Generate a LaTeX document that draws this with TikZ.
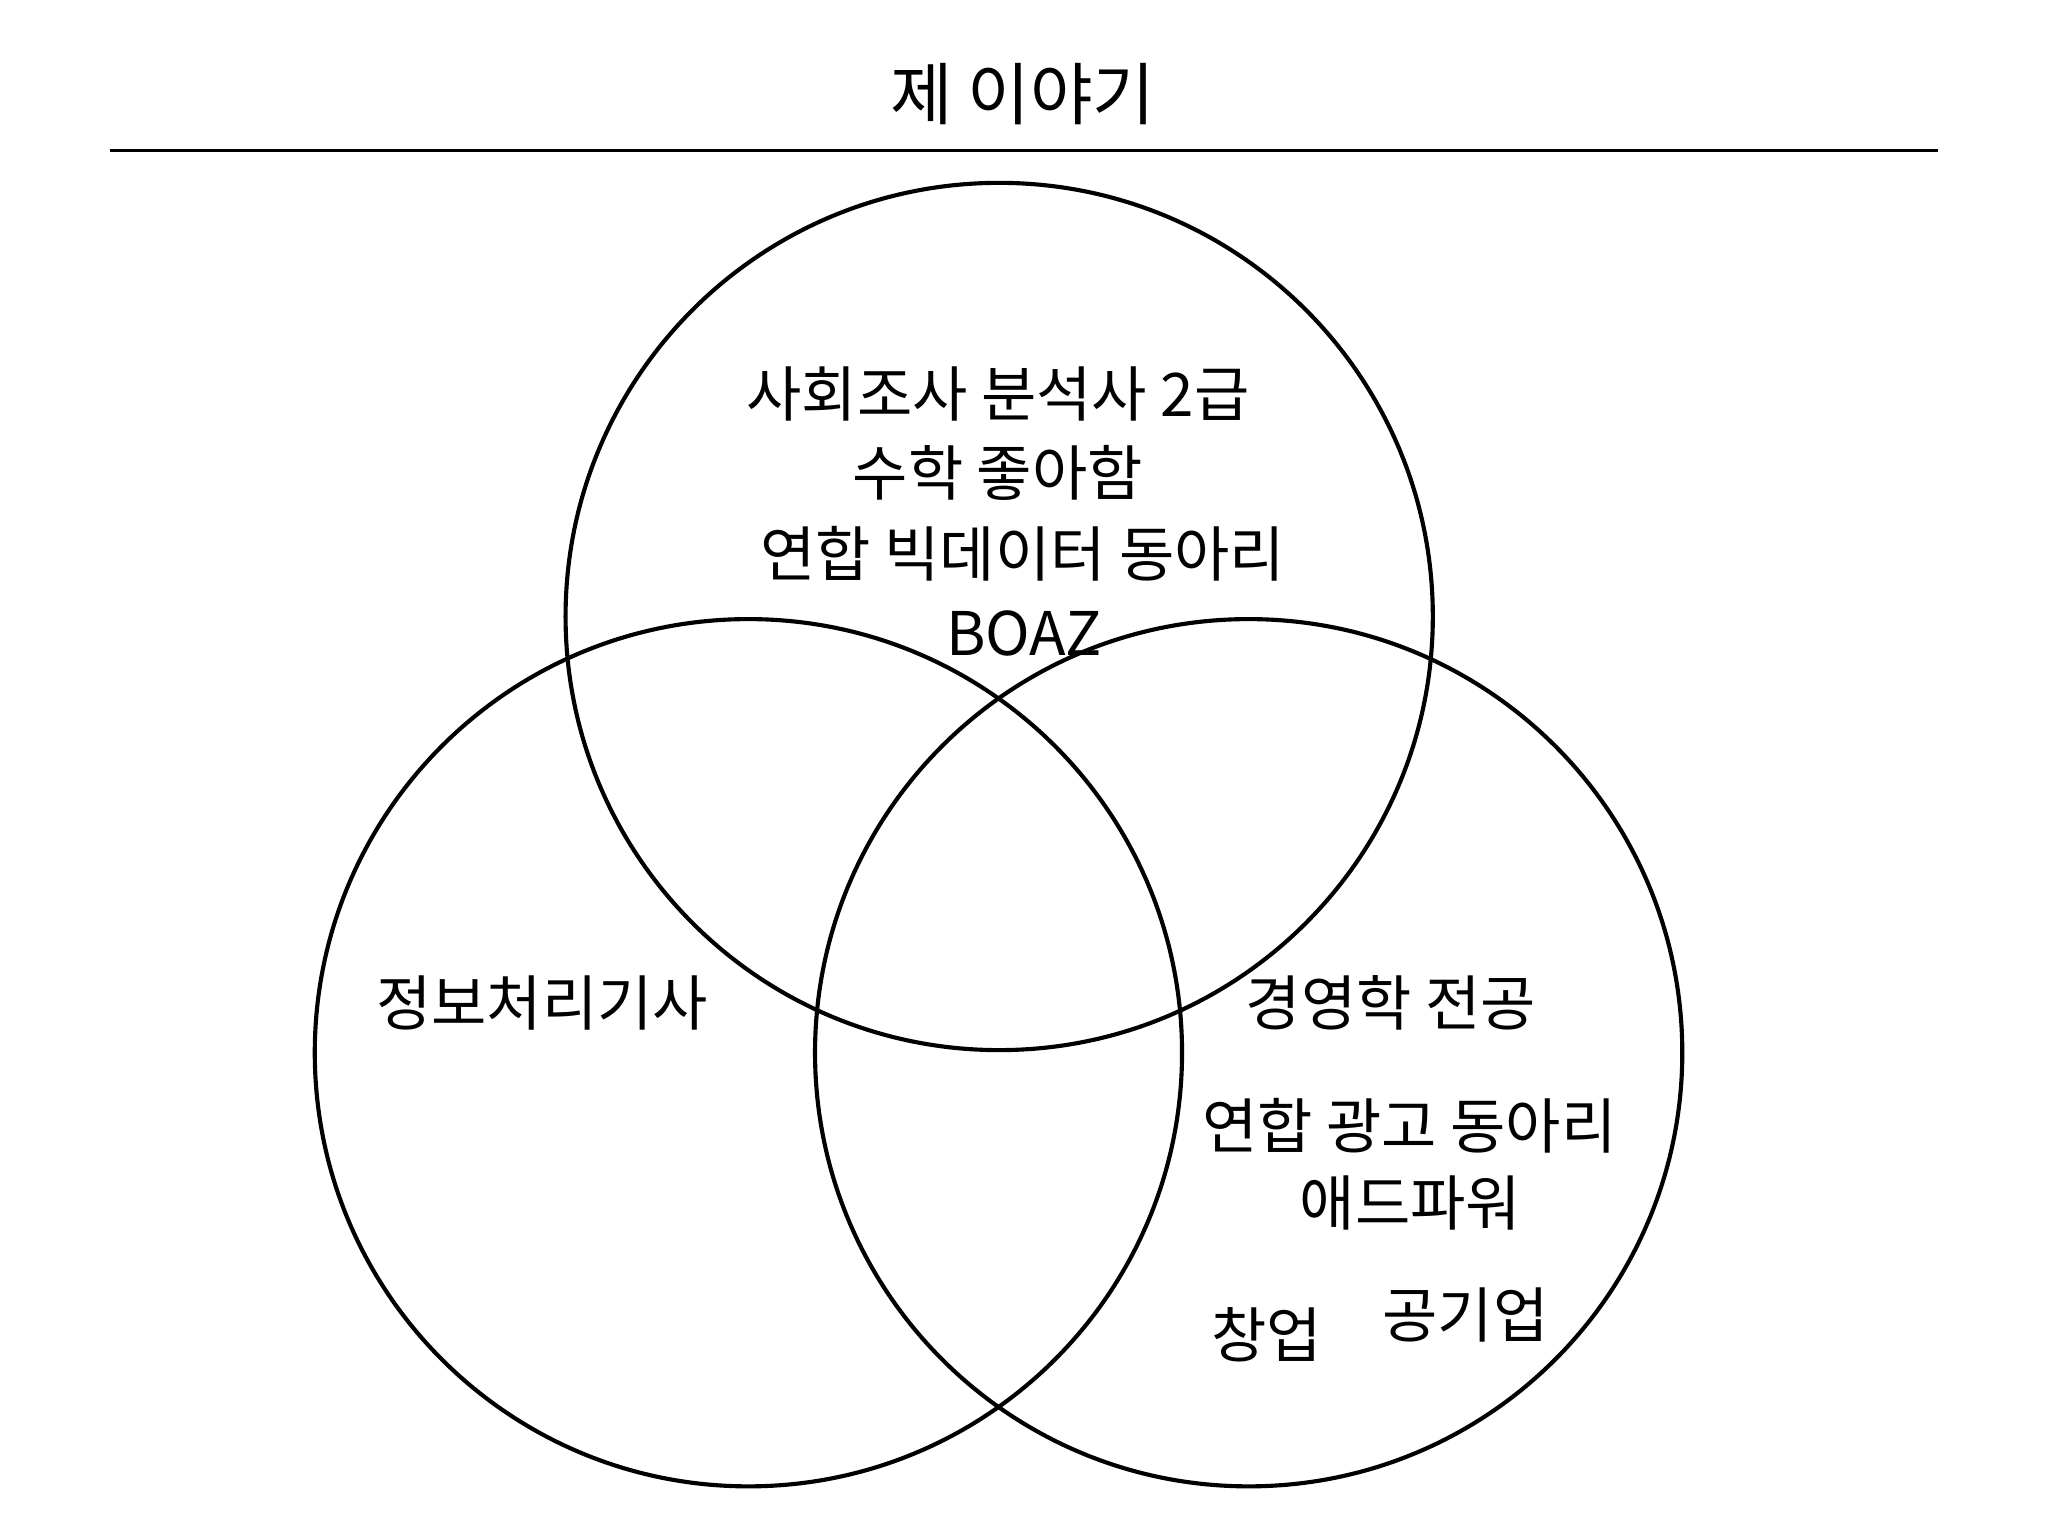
\documentclass[tikz,border=0pt]{standalone}
\usepackage{fontspec}
\setmainfont{Noto Sans CJK KR}
\usepackage{tikz}

\tikzset{
    set/.style={draw, circle, line width=0.9pt, inner sep=0pt, minimum size=6.64cm},
    item/.style={font=\fontsize{13.1}{15}\selectfont, inner sep=0pt},
}

\begin{document}
\begin{tikzpicture}
    \useasboundingbox (0,0) rectangle (15.68,-11.76);

    \node[font=\fontsize{14.8}{17}\selectfont] at (7.83, -0.72) (title) {제 이야기};
    \coordinate (ruleL) at (0.84, -1.15);
    \coordinate (ruleR) at (14.84, -1.15);
    \draw[line width=0.6pt] (ruleL) -- (ruleR);

    \node[set] at (7.65, -4.72) (top) {};
    \node[set] at (5.73, -8.06) (left) {};
    \node[set] at (9.56, -8.06) (right) {};

    \node[item] at (7.64, -3.02) (cert) {사회조사 분석사 2급};
    \node[item] at (7.64, -3.62) (math) {수학 좋아함};
    \node[item] at (7.83, -4.24) (club) {연합 빅데이터 동아리};
    \node[item] at (7.84, -4.85) (boaz) {BOAZ};

    \node[item] at (4.15, -7.68) (info) {정보처리기사};

    \node[item] at (10.65, -7.68) (major) {경영학 전공};
    \node[item] at (10.79, -8.62) (adclub) {연합 광고 동아리};
    \node[item] at (10.80, -9.21) (adpower) {애드파워};
    \node[item] at (9.70, -10.22) (startup) {창업};
    \node[item] at (11.22, -10.07) (public) {공기업};
\end{tikzpicture}
\end{document}
